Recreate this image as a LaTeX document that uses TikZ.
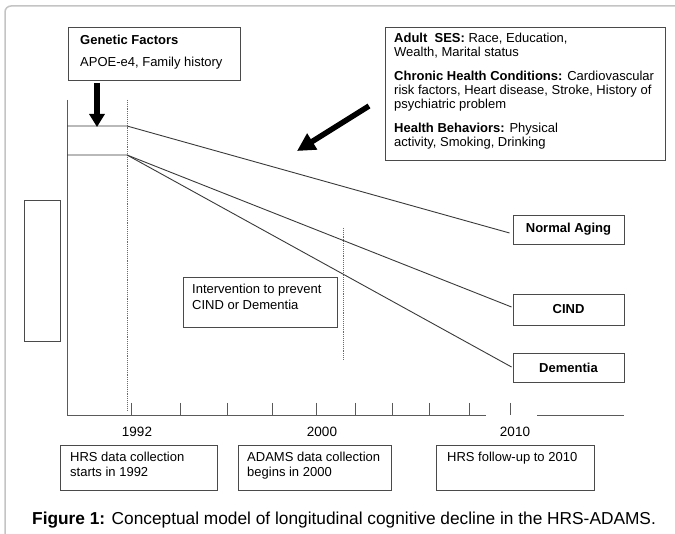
\documentclass[tikz,border=0pt]{standalone}
\usepackage{fontspec}
\setmainfont{Liberation Sans}
\usetikzlibrary{arrows.meta,calc}
\definecolor{boxc}{HTML}{4A4A4A}
\definecolor{linec}{HTML}{3A3A3A}
\definecolor{axisc}{HTML}{5A5A5A}
\definecolor{dotc}{HTML}{6A6A6A}
\definecolor{framec}{HTML}{C4C4C4}
\begin{document}
\begin{tikzpicture}[x=1pt,y=-1pt,
  box/.style={draw=boxc,line width=0.9pt,inner sep=0pt,rectangle},
  txt/.style={inner sep=0pt,anchor=base west,align=left,font=\fontsize{13}{14}\selectfont},
  bold13/.style={font=\fontsize{13}{14}\selectfont\bfseries},
  traj/.style={draw=linec,line width=0.9pt},
  axisl/.style={draw=axisc,line width=0.9pt},
  dotl/.style={draw=dotc,line width=0.9pt,densely dotted},
  bigarrow/.style={draw=black,line width=5.5pt},
  yearlab/.style={inner sep=0pt,anchor=base,font=\fontsize{13.5}{15}\selectfont}]
\useasboundingbox (0,0) rectangle (675,534);
\clip (0,0) rectangle (675,534);
\fill[white] (0,0) rectangle (675,534);
% outer frame
\draw[framec,line width=1.5pt,rounded corners=6pt] (5,6) rectangle (700,560);

% top boxes
\node[box,anchor=north west,minimum width=172pt,minimum height=53pt] (gen) at (68,27) {};
\node[txt] (gent) at (80,66.5) {\textbf{Genetic Factors}\\[8pt]APOE-e4, Family history};

\node[box,anchor=north west,minimum width=280pt,minimum height=133pt] (ses) at (385,27) {};
\node[txt] (sest) at (394,146.5) {\textbf{Adult\ \ SES:} Race, Education,\\
Wealth, Marital status\\[10pt]
\textbf{Chronic Health Conditions:} Cardiovascular\\
risk factors, Heart disease, Stroke, History of\\
psychiatric problem\\[10pt]
\textbf{Health Behaviors:} Physical\\
activity, Smoking, Drinking};

% left empty box
\node[box,anchor=north west,minimum width=36pt,minimum height=141pt] (lbox) at (24,200) {};

% outcome boxes
\node[box,bold13,minimum width=111pt,minimum height=29pt] (na) at (568.5,229.5) {Normal Aging};
\node[box,bold13,minimum width=111pt,minimum height=31pt] (cind) at (568.5,309.5) {CIND};
\node[box,bold13,minimum width=111pt,minimum height=29pt] (dem) at (568.5,367.5) {Dementia};

% intervention
\node[box,anchor=north west,minimum width=154pt,minimum height=50pt] (intv) at (183,277) {};
\node[txt] (intvt) at (192,309.5) {Intervention to prevent\\[2pt]CIND or Dementia};

% axes and guides
\coordinate (yt) at (67,100);
\coordinate (yb) at (67,415);
\draw[axisl] (yt) -- (yb);
\coordinate (d1t) at (127,100);
\coordinate (d1b) at (127,410);
\draw[dotl] (d1t) -- (d1b);
\coordinate (d2t) at (343,228);
\coordinate (d2b) at (343,360);
\draw[dotl] (d2t) -- (d2b);

\coordinate (s1) at (67,126);
\coordinate (p1) at (127,126);
\coordinate (s2) at (67,155);
\coordinate (p2) at (127,155);
\draw[traj] (s1) -- (p1) -- ($(na.west)+(-3,3.5)$);
\draw[traj] (s2) -- (p2) -- ($(cind.west)+(-1,-2.5)$);
\draw[traj] (p2) -- ($(dem.west)+(-1,-0.5)$);

% x axis
\coordinate (xa) at (67,415);
\coordinate (xb) at (486,415);
\coordinate (xc) at (537,415);
\coordinate (xd) at (624,415);
\draw[axisl] (xa) -- (xb);
\draw[axisl] (xc) -- (xd);
\foreach \t in {131,180,227,272,316,355,392,429,469,510}
  \draw[axisl] (\t,403) -- (\t,415);
\node[yearlab] (y92) at (137,437) {1992};
\node[yearlab] (y00) at (322,437) {2000};
\node[yearlab] (y10) at (515,437) {2010};

% bottom boxes
\node[box,anchor=north west,minimum width=157pt,minimum height=45pt] (b1) at (60,445) {};
\node[txt] (b1t) at (70,476.5) {HRS data collection\\[1pt]starts in 1992};
\node[box,anchor=north west,minimum width=153pt,minimum height=45pt] (b2) at (238,445) {};
\node[txt] (b2t) at (247,476.5) {ADAMS data collection\\[1pt]begins in 2000};
\node[box,anchor=north west,minimum width=158pt,minimum height=45pt] (b3) at (436,445) {};
\node[txt] (b3t) at (447,461.5) {HRS follow-up to 2010};

% arrows
\coordinate (ga1) at (97,83);
\coordinate (ga2) at (97,127);
\draw[bigarrow,-{Triangle[length=13pt,width=15pt]}] (ga1) -- (ga2);
\coordinate (sa1) at (369,106);
\coordinate (sa2) at (297,151);
\draw[bigarrow,-{Triangle[length=18pt,width=18pt]}] (sa1) -- (sa2);

% caption
\node[inner sep=0pt,anchor=base west,font=\fontsize{17.3}{20}\selectfont] (cap) at (32,525)
  {\textbf{Figure 1:} Conceptual model of longitudinal cognitive decline in the HRS-ADAMS.};
\end{tikzpicture}
\end{document}
